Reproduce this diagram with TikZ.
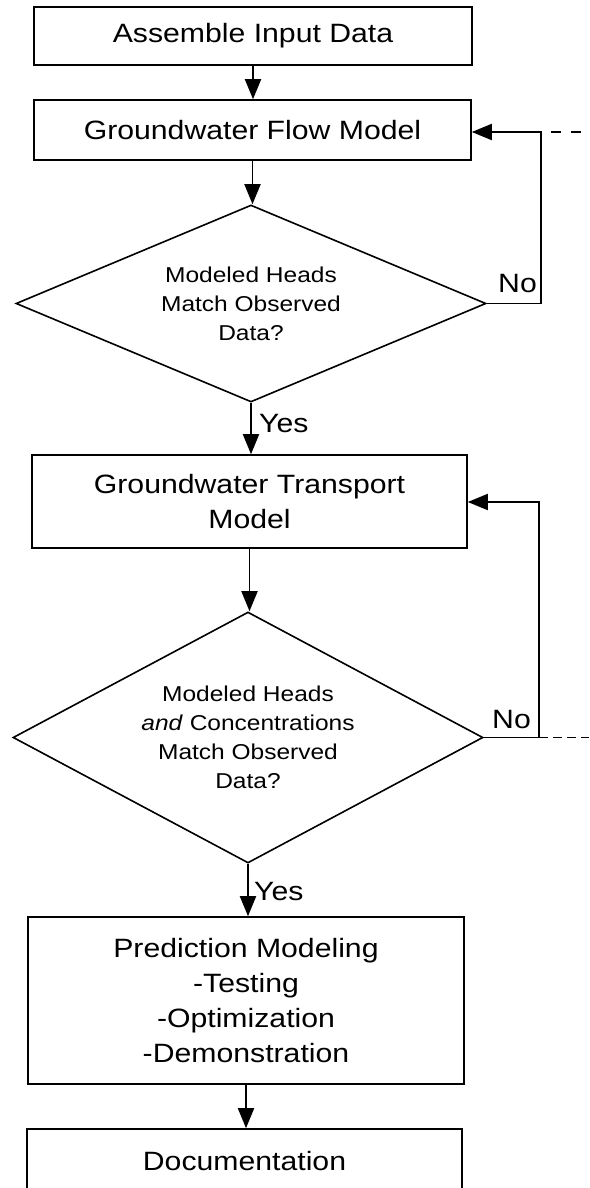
\documentclass[tikz,border=0pt]{standalone}
\usepackage{fontspec}
\setmainfont{Liberation Sans}[FakeStretch=1.14]
\usetikzlibrary{shapes.geometric,arrows.meta}
\newcommand\boxfont{\fontsize{26.5}{35}\selectfont}
\newcommand\decfont{\fontsize{21.5}{29}\selectfont}
\begin{document}
\begin{tikzpicture}[x=1pt,y=-1pt,
  box/.style={draw, line width=1.6pt, inner sep=0pt, align=center, font=\boxfont},
  dec/.style={draw, diamond, line width=1.6pt, inner sep=0pt, align=center, font=\decfont},
  flow/.style={line width=1.9pt, -{Triangle[length=20pt,width=16pt]}},
  lbl/.style={inner sep=0pt, font=\boxfont},
  loopline/.style={line width=1.9pt},
]
\useasboundingbox (0,0) rectangle (589,1188);
\clip (0,0) rectangle (589,1188);

\node[box, minimum width=438pt, minimum height=58pt] (b1) at (253,36) {Assemble Input Data};
\node[box, minimum width=437pt, minimum height=60pt] (b2) at (252.5,130) {Groundwater Flow Model};
\node[dec, aspect=2.386, minimum width=470pt, minimum height=197pt] (d1) at (251,303.5) {Modeled Heads\\Match Observed\\Data?};
\node[box, minimum width=435pt, minimum height=93pt] (b3) at (249.5,501.5) {Groundwater Transport\\Model};
\node[dec, aspect=1.873, minimum width=470pt, minimum height=251pt] (d2) at (248,737.5) {Modeled Heads\\\textit{and} Concentrations\\Match Observed\\Data?};
\node[box, minimum width=436pt, minimum height=167pt] (b4) at (246,1000.5) {Prediction Modeling\\-Testing\\-Optimization\\-Demonstration};
\node[box, minimum width=435pt, minimum height=64pt] (b5) at (244.5,1161) {Documentation};

\draw[flow] (b1.south) -- (b1.south |- b2.north);
\draw[flow] (b2.south) -- (b2.south |- d1.north);
\draw[flow] (d1.south) -- (d1.south |- b3.north);
\draw[flow] (b3.south) -- (b3.south |- d2.north);
\draw[flow] (d2.south) -- (d2.south |- b4.north);
\draw[flow] (b4.south) -- (b4.south |- b5.north);

\coordinate (r1) at (541,132);
\coordinate (e1) at (589,132);
\draw[flow] (d1.east) -| (r1) -- (b2.east |- r1);
\draw[loopline, dash pattern=on 10pt off 10pt, dash phase=10pt] (r1) -- (e1);

\coordinate (r2) at (539,502);
\coordinate (e2) at (589,737.5);
\draw[flow] (d2.east) -| (r2) -- (b3.east |- r2);
\draw[loopline, dash pattern=on 9pt off 5pt] (d2.east -| r2) -- (e2);

\node[lbl, anchor=base west] (y1) at (259,432) {Yes};
\node[lbl, anchor=base west] (y2) at (254,900) {Yes};
\node[lbl, anchor=base east] (n1) at (537,292) {No};
\node[lbl, anchor=base east] (n2) at (531,728) {No};
\end{tikzpicture}
\end{document}
